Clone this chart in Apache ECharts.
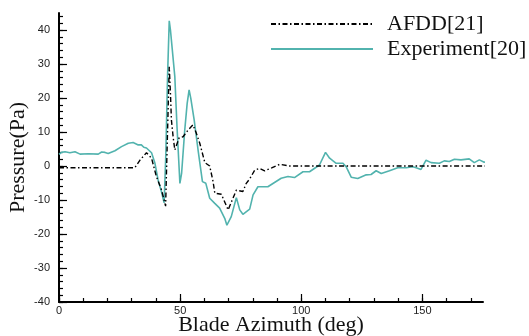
<!DOCTYPE html>
<html>
<head>
<meta charset="utf-8">
<script src="https://cdn.jsdelivr.net/npm/echarts@6/dist/echarts.min.js"></script>
<style>
  html, body { margin: 0; padding: 0; background: #fff; }
  #chart { width: 529px; height: 336px; }
</style>
</head>
<body>
<div id="chart"></div>
<script>
// Measured pressure (Experiment[20]) vs blade azimuth
const expAzimuth = [0, 1, 2.5, 4.5, 6.6, 8.7, 12.1, 16.2, 17.6, 19.0, 20.3, 23.1, 25.8, 28.6, 30.6, 32.7, 34.0, 35.0, 36.1, 38.2,
  39.6, 40.9, 42.3, 43.4, 44.1, 44.8, 45.5, 46.0, 46.7, 47.8, 48.7, 49.9, 50.6, 51.9, 52.9, 53.7, 54.4, 55.8, 57.4, 59.2,
  60.6, 62.2, 64.3, 66.3, 68.4, 69.3, 71.1, 73.2, 74.6, 75.9, 78.7, 80.1, 82.1, 86.2, 91.7, 94.5, 97.2, 100.7, 103.4, 107.5,
  110.0, 111.7, 114.4, 117.2, 118.5, 120.6, 123.3, 126.8, 128.8, 129.5, 130.9, 133.0, 136.4, 139.8, 143.3, 146.0, 147.4, 149.4, 151.5, 153.6,
  157.0, 159.0, 161.1, 163.2, 165.9, 169.3, 171.4, 173.5, 175.5, 177.5];
const expPressure = [3.4, 4.0, 4.2, 3.9, 4.2, 3.5, 3.6, 3.5, 4.1, 4.0, 3.7, 4.5, 5.7, 6.7, 6.9, 6.2, 6.2, 5.5, 5.3, 3.9,
  0.8, -4.1, -7.6, -10.8, 3.7, 26.3, 42.7, 40.0, 39.5, 26.3, 11.6, -5.1, -2.2, 10.6, 18.4, 22.4, 19.9, 13.5, 4.7, -4.6,
  -5.1, -9.5, -11.0, -12.4, -15.4, -17.4, -14.9, -9.3, -12.9, -14.2, -12.7, -8.5, -6.1, -6.1, -3.6, -3.1, -3.4, -1.7, -1.7, 0.3,
  4.0, 2.3, 0.8, 0.8, -0.2, -3.3, -3.7, -2.6, -2.5, -2.9, -1.4, -2.2, -1.4, -0.5, -0.5, -0.2, -0.5, -1.0, 1.7, 1.0,
  0.8, 1.5, 1.3, 2.0, 1.8, 2.1, 1.0, 1.8, 1.1, 1.6];

// Predicted pressure (AFDD[21]) vs blade azimuth
const afddAzimuth = [0, 31.3, 33.5, 36.1, 38.2, 40.2, 42.3, 44.0, 44.8, 45.5, 46.0, 46.4, 47.1, 47.8, 49.6, 51.2, 53.3, 55.3, 56.7, 58.1,
  60.2, 62.2, 63.6, 64.3, 67.0, 69.8, 73.2, 75.9, 77.3, 78.7, 80.8, 82.8, 84.9, 88.0, 91.1, 95.2, 177.5];
const afddPressure = [-0.5, -0.5, 1.8, 3.9, 2.3, -3.1, -7.0, -11.8, 10.0, 29.2, 21.4, 13.5, 8.6, 4.7, 8.3, 8.6, 10.6, 12.1, 9.6, 6.7,
  1.0, 0.0, -4.6, -8.0, -8.3, -12.9, -7.1, -7.5, -5.1, -3.8, -1.2, -0.7, -1.4, -0.5, 0.5, 0.0, 0.0];

// Axis ticks
const xLabelTicks = [0, 50, 100, 150];
const xMinorTicks = [0, 10, 20, 30, 40, 50, 60, 70, 80, 90, 100, 110, 120, 130, 140, 150, 160, 170];
const yLabelTicks = [-40, -30, -20, -10, 0, 10, 20, 30, 40];
const yMinorTicks = [];
for (let v = -40; v <= 44; v += 2) yMinorTicks.push(v);

const zip = (xs, ys) => xs.map((x, i) => [x, ys[i]]);

const serif = 'Liberation Serif, Times New Roman, serif';
const sans = 'Liberation Sans, Arial, sans-serif';
const teal = '#52b3ae';

const baseX = {
  type: 'value', min: 0, max: 175, position: 'bottom',
  splitLine: { show: false }
};
const baseY = {
  type: 'value', min: -40, max: 45, position: 'left',
  splitLine: { show: false }
};

const chart = echarts.init(document.getElementById('chart'), null, { renderer: 'canvas' });
chart.setOption({
  animation: false,
  backgroundColor: '#fff',
  grid: { left: 59, right: 46, top: 13, bottom: 34, containLabel: false, outerBoundsMode: 'none' },
  legend: {
    orient: 'vertical',
    left: 265, top: 8, padding: 5,
    itemWidth: 102, itemHeight: 2, itemGap: 3,
    itemStyle: { opacity: 0 },
    data: ['AFDD[21]', 'Experiment[20]'],
    textStyle: { fontFamily: serif, fontSize: 22, color: '#111', padding: [0, 0, 0, 9] }
  },
  xAxis: [
    Object.assign({}, baseX, {
      name: 'Blade Azimuth (deg)', nameLocation: 'middle', nameGap: 12, nameMoveOverlap: false,
      nameTextStyle: { fontFamily: serif, fontSize: 22, color: '#111' },
      axisLine: { show: true, onZero: false, lineStyle: { color: '#000', width: 2 } },
      axisTick: { show: true, inside: true, length: 8, lineStyle: { color: '#000', width: 1.2 }, customValues: xLabelTicks },
      axisLabel: { show: true, margin: 3, fontFamily: sans, fontSize: 11, color: '#222', customValues: xLabelTicks }
    }),
    Object.assign({}, baseX, {
      axisLine: { show: false, onZero: false },
      axisTick: { show: true, inside: true, length: 4, lineStyle: { color: '#000', width: 1.2 }, customValues: xMinorTicks },
      axisLabel: { show: false }
    })
  ],
  yAxis: [
    Object.assign({}, baseY, {
      name: 'Pressure(Pa)', nameLocation: 'middle', nameGap: 30, nameMoveOverlap: false,
      nameTextStyle: { fontFamily: serif, fontSize: 22, color: '#111' },
      axisLine: { show: true, onZero: false, lineStyle: { color: '#000', width: 2 } },
      axisTick: { show: true, inside: true, length: 8, lineStyle: { color: '#000', width: 1.2 }, customValues: yLabelTicks },
      axisLabel: { show: true, margin: 9, fontFamily: sans, fontSize: 11, color: '#222', customValues: yLabelTicks }
    }),
    Object.assign({}, baseY, {
      axisLine: { show: false, onZero: false },
      axisTick: { show: true, inside: true, length: 4, lineStyle: { color: '#000', width: 1.2 }, customValues: yMinorTicks },
      axisLabel: { show: false }
    })
  ],
  series: [
    {
      name: 'Experiment[20]', type: 'line', xAxisIndex: 0, yAxisIndex: 0,
      data: zip(expAzimuth, expPressure),
      symbol: 'none', clip: false, z: 2,
      lineStyle: { color: teal, width: 1.6 },
      itemStyle: { color: teal }
    },
    {
      name: 'AFDD[21]', type: 'line', xAxisIndex: 0, yAxisIndex: 0,
      data: zip(afddAzimuth, afddPressure),
      symbol: 'none', clip: false, z: 3,
      lineStyle: { color: '#000', width: 1.4, type: [5, 2.5, 1.5, 2.5] },
      itemStyle: { color: '#000' }
    }
  ]
});
</script>
</body>
</html>
